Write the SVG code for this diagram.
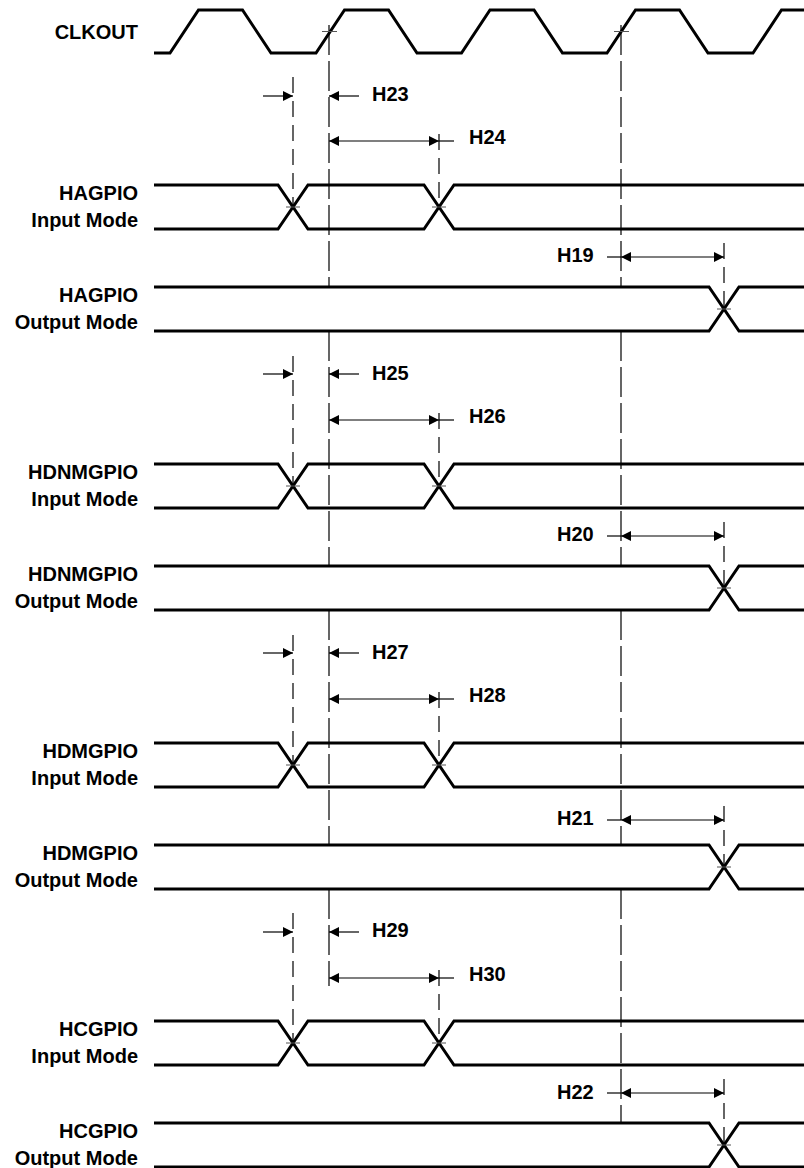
<svg xmlns="http://www.w3.org/2000/svg" width="804" height="1168" viewBox="0 0 804 1168">
<style>
.sig{fill:none;stroke:#000;stroke-width:3;stroke-linejoin:miter}
.lbl{font-family:"Liberation Sans",Arial,sans-serif;font-weight:bold;font-size:20px;fill:#000}
.lr{text-anchor:end}
.guide{stroke:#000;stroke-width:1.2;stroke-dasharray:30 6;fill:none}
.dash{stroke:#000;stroke-width:1.2;stroke-dasharray:16 8;fill:none}
.dim{stroke:#000;stroke-width:1.2;fill:none}
.tick{stroke:#555;stroke-width:1;fill:none}
</style>
<defs>
<marker id="ah" viewBox="0 0 10 10" refX="10" refY="5" markerWidth="10" markerHeight="10" markerUnits="userSpaceOnUse" orient="auto-start-reverse">
<path d="M0,0 L10,5 L0,10 z" fill="#000"/>
</marker>
</defs>
<rect width="804" height="1168" fill="#fff"/>

<g id="guides">
<path class="guide" d="M329,25 V287 M329,331 V566 M329,610 V845 M329,889 V986"/>
<path class="guide" d="M621,25 V287 M621,331 V566 M621,610 V845 M621,889 V1123"/>
<path class="dash" d="M293,77 V207 M293,356 V486 M293,635 V765 M293,913 V1043"/>
<path class="dash" d="M439,134 V207 M439,413 V486 M439,692 V765 M439,970 V1043"/>
<path class="dash" d="M724,243 V309 M724,522 V588 M724,806 V867 M724,1079 V1145"/>
</g>

<g id="clkout">
<text class="lbl lr" x="138" y="39">CLKOUT</text>
<path class="sig" d="M154,53 L170,53 L198.5,10 L242.5,10 L271,53 L316,53 L344.5,10 L388.5,10 L417,53 L461.5,53 L490,10 L534,10 L562.5,53 L607,53 L635.5,10 L679.5,10 L708,53 L753,53 L781.5,10 L804,10"/>
<path class="tick" d="M322,31.5 H337 M614,31.5 H629"/>
</g>

<g id="hagpio-in">
<text class="lbl lr" x="138" y="200">HAGPIO</text>
<text class="lbl lr" x="138" y="227">Input Mode</text>
<path class="sig" d="M154,185 H278 L308,229 H424 L454,185 H804 M154,229 H278 L308,185 H424 L454,229 H804"/>
<path class="tick" d="M286,207 H300 M432,207 H446"/>
</g>
<g id="hagpio-out">
<text class="lbl lr" x="138" y="302">HAGPIO</text>
<text class="lbl lr" x="138" y="329">Output Mode</text>
<path class="sig" d="M154,287 H709 L739,331 H804 M154,331 H709 L739,287 H804"/>
<path class="tick" d="M717,309 H731"/>
</g>

<g id="hdnmgpio-in">
<text class="lbl lr" x="138" y="479">HDNMGPIO</text>
<text class="lbl lr" x="138" y="506">Input Mode</text>
<path class="sig" d="M154,464 H278 L308,508 H424 L454,464 H804 M154,508 H278 L308,464 H424 L454,508 H804"/>
<path class="tick" d="M286,486 H300 M432,486 H446"/>
</g>
<g id="hdnmgpio-out">
<text class="lbl lr" x="138" y="581">HDNMGPIO</text>
<text class="lbl lr" x="138" y="608">Output Mode</text>
<path class="sig" d="M154,566 H709 L739,610 H804 M154,610 H709 L739,566 H804"/>
<path class="tick" d="M717,588 H731"/>
</g>

<g id="hdmgpio-in">
<text class="lbl lr" x="138" y="758">HDMGPIO</text>
<text class="lbl lr" x="138" y="785">Input Mode</text>
<path class="sig" d="M154,743 H278 L308,787 H424 L454,743 H804 M154,787 H278 L308,743 H424 L454,787 H804"/>
<path class="tick" d="M286,765 H300 M432,765 H446"/>
</g>
<g id="hdmgpio-out">
<text class="lbl lr" x="138" y="860">HDMGPIO</text>
<text class="lbl lr" x="138" y="887">Output Mode</text>
<path class="sig" d="M154,845 H709 L739,889 H804 M154,889 H709 L739,845 H804"/>
<path class="tick" d="M717,867 H731"/>
</g>

<g id="hcgpio-in">
<text class="lbl lr" x="138" y="1036">HCGPIO</text>
<text class="lbl lr" x="138" y="1063">Input Mode</text>
<path class="sig" d="M154,1021 H278 L308,1065 H424 L454,1021 H804 M154,1065 H278 L308,1021 H424 L454,1065 H804"/>
<path class="tick" d="M286,1043 H300 M432,1043 H446"/>
</g>
<g id="hcgpio-out">
<text class="lbl lr" x="138" y="1138">HCGPIO</text>
<text class="lbl lr" x="138" y="1165">Output Mode</text>
<path class="sig" d="M154,1123 H709 L739,1167 H804 M154,1167 H709 L739,1123 H804"/>
<path class="tick" d="M717,1145 H731"/>
</g>

<g id="connectors">
<!-- H23 -->
<line class="dim" x1="263" y1="96" x2="293" y2="96" marker-end="url(#ah)"/>
<line class="dim" x1="359" y1="96" x2="329" y2="96" marker-end="url(#ah)"/>
<!-- H24 -->
<line class="dim" x1="329" y1="141" x2="439" y2="141" marker-start="url(#ah)" marker-end="url(#ah)"/>
<line class="dim" x1="439" y1="141" x2="454" y2="141"/>
<!-- H19 -->
<line class="dim" x1="607" y1="257" x2="621" y2="257"/>
<line class="dim" x1="621" y1="257" x2="724" y2="257" marker-start="url(#ah)" marker-end="url(#ah)"/>
<!-- H25 -->
<line class="dim" x1="263" y1="374" x2="293" y2="374" marker-end="url(#ah)"/>
<line class="dim" x1="359" y1="374" x2="329" y2="374" marker-end="url(#ah)"/>
<!-- H26 -->
<line class="dim" x1="329" y1="420" x2="439" y2="420" marker-start="url(#ah)" marker-end="url(#ah)"/>
<line class="dim" x1="439" y1="420" x2="454" y2="420"/>
<!-- H20 -->
<line class="dim" x1="607" y1="536" x2="621" y2="536"/>
<line class="dim" x1="621" y1="536" x2="724" y2="536" marker-start="url(#ah)" marker-end="url(#ah)"/>
<!-- H27 -->
<line class="dim" x1="263" y1="653" x2="293" y2="653" marker-end="url(#ah)"/>
<line class="dim" x1="359" y1="653" x2="329" y2="653" marker-end="url(#ah)"/>
<!-- H28 -->
<line class="dim" x1="329" y1="699" x2="439" y2="699" marker-start="url(#ah)" marker-end="url(#ah)"/>
<line class="dim" x1="439" y1="699" x2="454" y2="699"/>
<!-- H21 -->
<line class="dim" x1="607" y1="820" x2="621" y2="820"/>
<line class="dim" x1="621" y1="820" x2="724" y2="820" marker-start="url(#ah)" marker-end="url(#ah)"/>
<!-- H29 -->
<line class="dim" x1="263" y1="932" x2="293" y2="932" marker-end="url(#ah)"/>
<line class="dim" x1="359" y1="932" x2="329" y2="932" marker-end="url(#ah)"/>
<!-- H30 -->
<line class="dim" x1="329" y1="978" x2="439" y2="978" marker-start="url(#ah)" marker-end="url(#ah)"/>
<line class="dim" x1="439" y1="978" x2="454" y2="978"/>
<!-- H22 -->
<line class="dim" x1="607" y1="1093" x2="621" y2="1093"/>
<line class="dim" x1="621" y1="1093" x2="724" y2="1093" marker-start="url(#ah)" marker-end="url(#ah)"/>
</g>

<g id="labels">
<text class="lbl" x="372" y="101">H23</text>
<text class="lbl" x="469" y="144">H24</text>
<text class="lbl" x="557" y="262">H19</text>
<text class="lbl" x="372" y="380">H25</text>
<text class="lbl" x="469" y="423">H26</text>
<text class="lbl" x="557" y="541">H20</text>
<text class="lbl" x="372" y="659">H27</text>
<text class="lbl" x="469" y="702">H28</text>
<text class="lbl" x="557" y="825">H21</text>
<text class="lbl" x="372" y="937">H29</text>
<text class="lbl" x="469" y="981">H30</text>
<text class="lbl" x="557" y="1099">H22</text>
</g>
</svg>
